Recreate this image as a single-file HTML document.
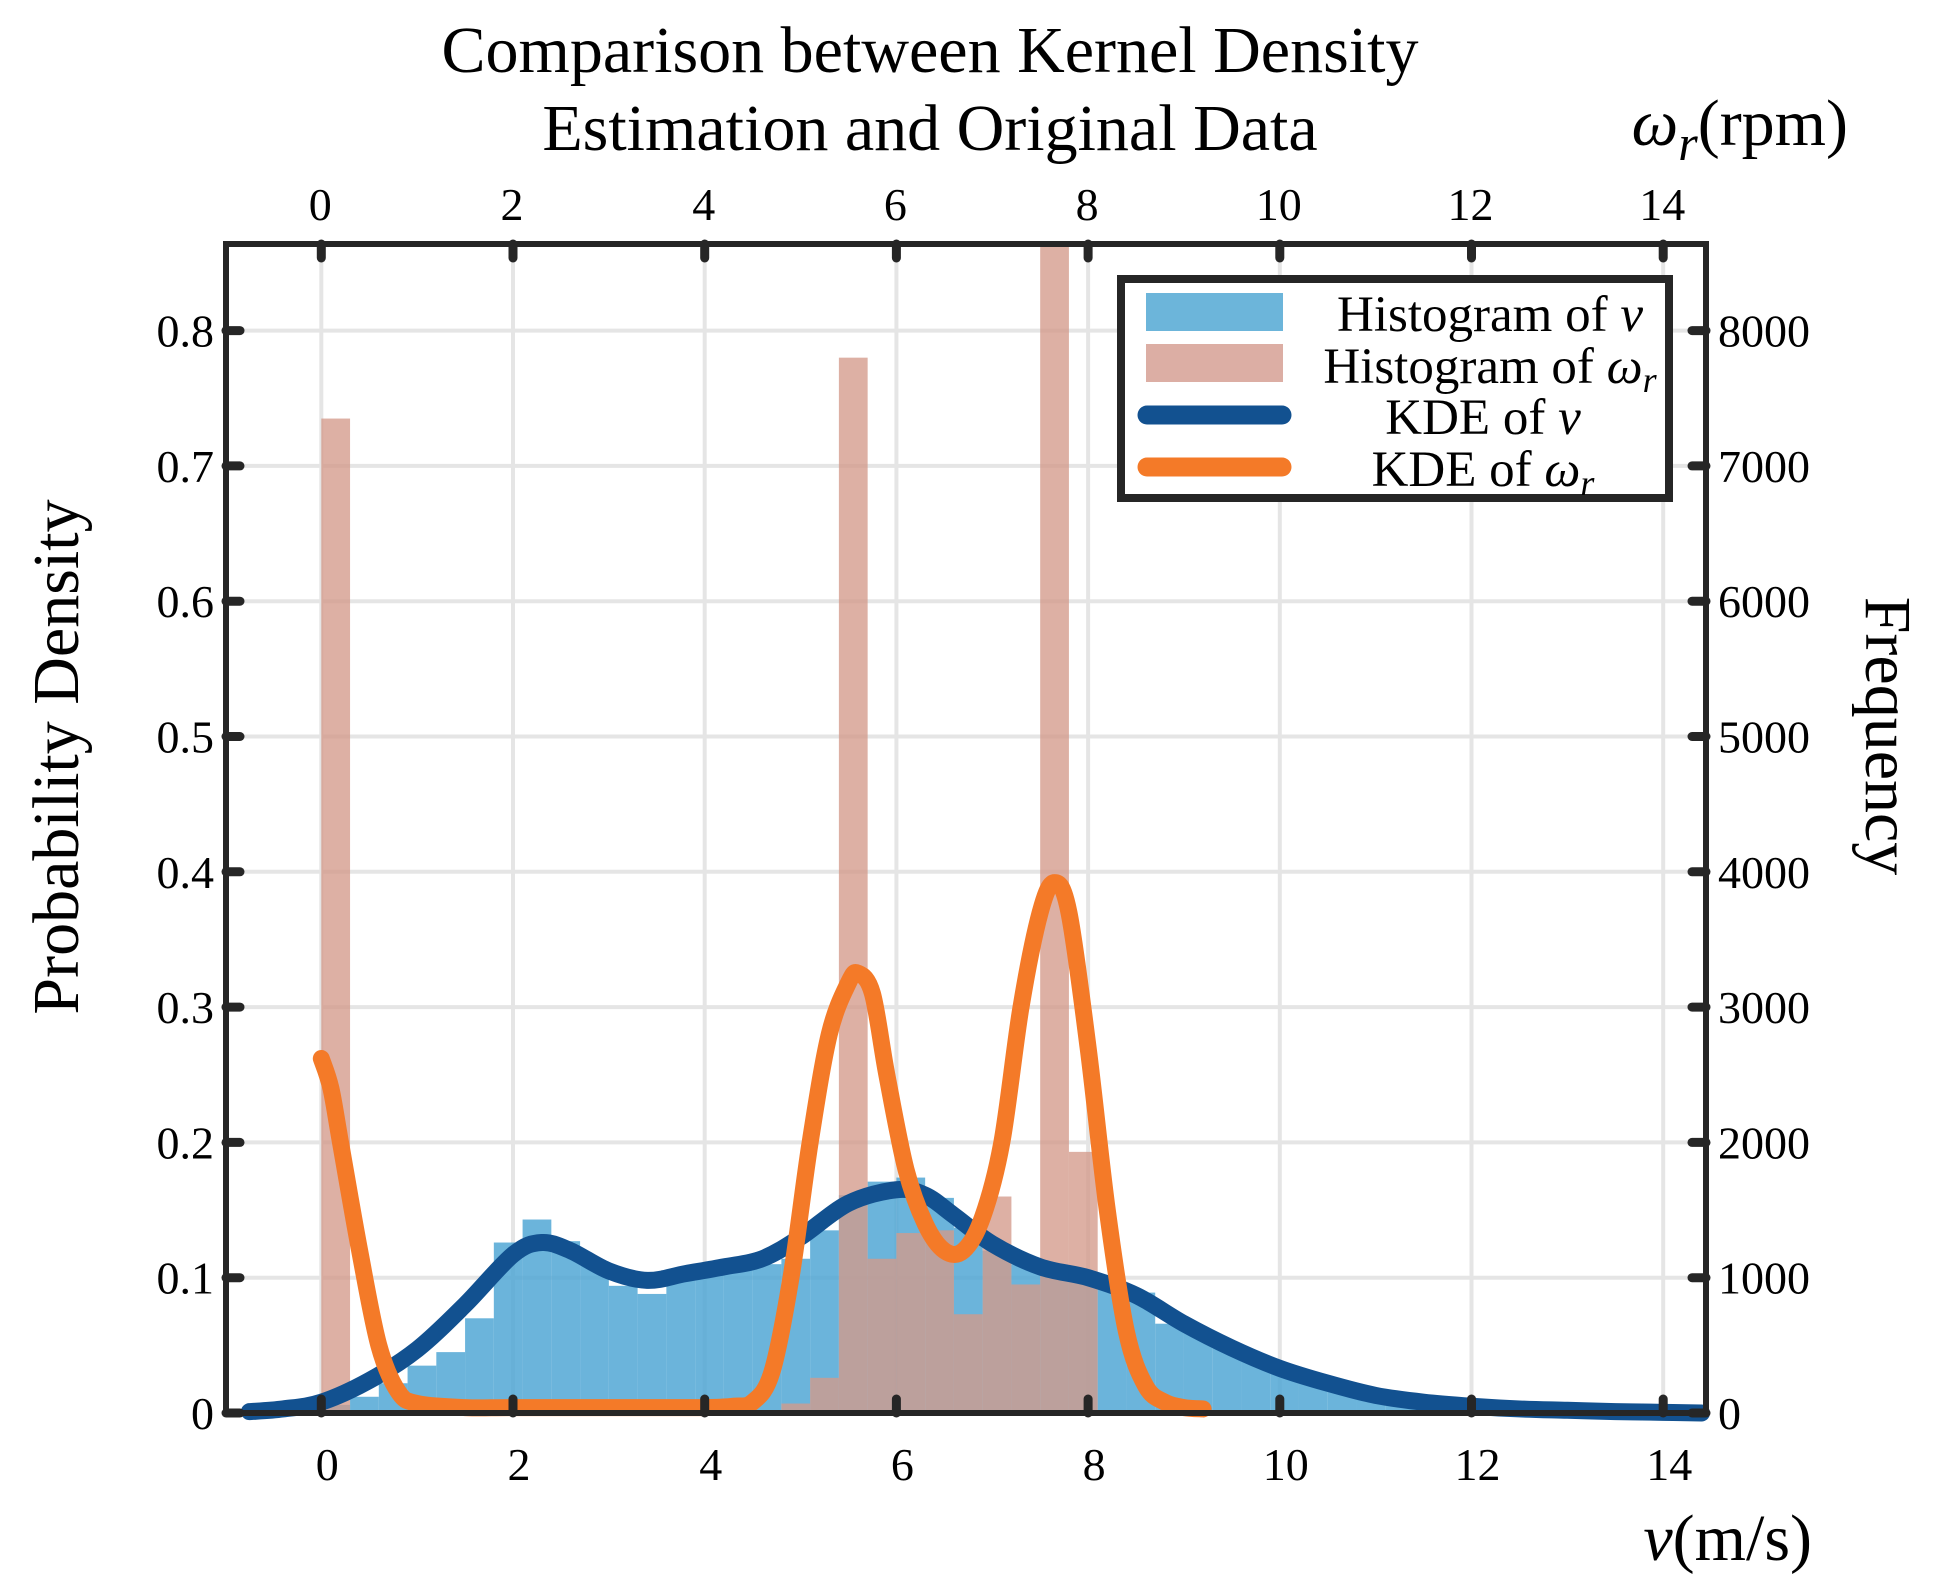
<!DOCTYPE html>
<html><head><meta charset="utf-8"><style>
html,body{margin:0;padding:0;background:#fff;}
svg{display:block;font-family:"Liberation Serif",serif;}
</style></head><body>
<svg id="chart" width="1939" height="1582" viewBox="0 0 1939 1582" xmlns="http://www.w3.org/2000/svg">
<g id="grid"></g>
<g id="bars"></g>
<g id="lines"></g>
<g id="axes"></g>
<text x="930" y="72" font-size="66" text-anchor="middle">Comparison between Kernel Density</text>
<text x="930" y="150" font-size="66" text-anchor="middle">Estimation and Original Data</text>
<text x="1848" y="145" font-size="66" text-anchor="end"><tspan font-style="italic">ω</tspan><tspan font-style="italic" font-size="50" dy="15">r</tspan><tspan dy="-15">(rpm)</tspan></text>
<text x="1812" y="1560" font-size="66" text-anchor="end"><tspan font-style="italic">v</tspan>(m/s)</text>
<text transform="translate(78,757) rotate(-90)" font-size="66" text-anchor="middle">Probability Density</text>
<text transform="translate(1866,736) rotate(90)" font-size="66" text-anchor="middle">Frequency</text>
<g>
<rect x="1121" y="279" width="548" height="219" fill="#fff" stroke="#262626" stroke-width="8"/>
<rect x="1146" y="293" width="137" height="38" fill="#6cb5da"/>
<rect x="1146" y="344" width="137" height="38" fill="#dcaea4"/>
<line x1="1147" y1="415" x2="1282" y2="415" stroke="#125190" stroke-width="19" stroke-linecap="round"/>
<line x1="1147" y1="467" x2="1282" y2="467" stroke="#f47a28" stroke-width="19" stroke-linecap="round"/>
<text x="1490" y="331" font-size="51" text-anchor="middle">Histogram of <tspan font-style="italic">v</tspan></text>
<text x="1490" y="383" font-size="51" text-anchor="middle">Histogram of <tspan font-style="italic">ω</tspan><tspan font-style="italic" font-size="36" dy="9">r</tspan></text>
<text x="1483" y="434" font-size="51" text-anchor="middle">KDE of <tspan font-style="italic">v</tspan></text>
<text x="1483" y="486" font-size="51" text-anchor="middle">KDE of <tspan font-style="italic">ω</tspan><tspan font-style="italic" font-size="36" dy="9">r</tspan></text>
</g>
</svg>
<script>
const xTicks = [0,2,4,6,8,10,12,14];
const yTicksLeft = [0,0.1,0.2,0.3,0.4,0.5,0.6,0.7,0.8];
const yTickLabelsLeft = ["0","0.1","0.2","0.3","0.4","0.5","0.6","0.7","0.8"];
const yTickLabelsRight = ["0","1000","2000","3000","4000","5000","6000","7000","8000"];
const binWidth = 0.3;
const histVStarts = [0,0.3,0.6,0.9,1.2,1.5,1.8,2.1,2.4,2.7,3.0,3.3,3.6,3.9,4.2,4.5,4.8,5.1,5.4,5.7,6.0,6.3,6.6,6.9,7.2,7.5,7.8,8.1,8.4,8.7,9.0,9.3,9.6,9.9,10.2,10.5,10.8,11.1,11.4,11.7,12.0,12.3,12.6,12.9,13.2,13.5,13.8];
const histVValues = [0.006,0.012,0.022,0.035,0.045,0.07,0.126,0.143,0.127,0.112,0.094,0.088,0.1,0.105,0.108,0.11,0.114,0.135,0.161,0.171,0.174,0.159,0.137,0.12,0.11,0.106,0.1,0.097,0.089,0.066,0.06,0.05,0.04,0.032,0.023,0.016,0.011,0.007,0.005,0.004,0.003,0.002,0.002,0.001,0.001,0.001,0.001];
const histWStarts = [0,4.8,5.1,5.4,5.7,6.0,6.3,6.6,6.9,7.2,7.5,7.8];
const histWValues = [0.735,0.007,0.026,0.78,0.114,0.133,0.135,0.073,0.16,0.095,0.95,0.193];
const kdeVx = [-0.75,-0.4,0,0.5,1.0,1.5,2.0,2.3,2.6,3.0,3.4,3.8,4.2,4.6,5.0,5.5,6.0,6.3,6.6,7.0,7.5,8.0,8.5,9.0,9.5,10,10.5,11,11.5,12,12.5,13,13.5,14,14.4];
const kdeVy = [0.001,0.003,0.008,0.024,0.047,0.08,0.117,0.126,0.12,0.105,0.098,0.103,0.108,0.114,0.13,0.155,0.165,0.161,0.146,0.125,0.108,0.1,0.087,0.066,0.048,0.033,0.022,0.013,0.008,0.005,0.003,0.002,0.001,0.0005,0];
const kdeWx = [0,0.1,0.2,0.4,0.6,0.8,1.0,1.5,2.0,3.0,4.0,4.3,4.5,4.7,4.9,5.1,5.3,5.5,5.6,5.75,5.9,6.1,6.3,6.5,6.7,6.9,7.1,7.3,7.5,7.65,7.8,8.0,8.2,8.4,8.6,8.8,9.0,9.2];
const kdeWy = [0.262,0.24,0.2,0.12,0.05,0.016,0.007,0.004,0.004,0.004,0.004,0.005,0.008,0.03,0.1,0.2,0.28,0.318,0.325,0.31,0.25,0.18,0.14,0.12,0.12,0.145,0.2,0.3,0.37,0.392,0.37,0.27,0.15,0.06,0.02,0.008,0.004,0.003];

const L=226,R=1706,T=244,B=1413;
const X0=321.3, XS=95.85, YS=1353;
const sx=v=>X0+v*XS;
const sy=d=>B-d*YS;
const NS="http://www.w3.org/2000/svg";
function mk(tag,parent,attrs){const e=document.createElementNS(NS,tag);for(const k in attrs)e.setAttribute(k,attrs[k]);parent.appendChild(e);return e;}
const grid=document.getElementById('grid'),bars=document.getElementById('bars'),lines=document.getElementById('lines'),axes=document.getElementById('axes');
xTicks.forEach(t=>{const g=mk('line',grid,{x1:sx(t),x2:sx(t),y1:T,y2:B,stroke:'#e5e5e5','stroke-width':4});

});
yTicksLeft.forEach(t=>{const g=mk('line',grid,{x1:L,x2:R,y1:sy(t),y2:sy(t),stroke:'#e5e5e5','stroke-width':4});

});
histVStarts.forEach((s,i)=>{const h=Math.min(histVValues[i],(B-T)/YS);const r=mk('rect',bars,{x:sx(s),y:sy(h),width:binWidth*XS,height:h*YS,fill:'#4aa3d3','fill-opacity':0.82});

});
histWStarts.forEach((s,i)=>{const h=Math.min(histWValues[i],(B-T)/YS);const r=mk('rect',bars,{x:sx(s),y:sy(h),width:binWidth*XS,height:h*YS,fill:'#d49a8a','fill-opacity':0.78});

});
function smoothPath(xs,ys){const p=xs.map((x,i)=>[sx(x),sy(ys[i])]);let d='M'+p[0][0]+','+p[0][1];
for(let i=0;i<p.length-1;i++){const p0=p[Math.max(0,i-1)],p1=p[i],p2=p[i+1],p3=p[Math.min(p.length-1,i+2)];
const c1=[p1[0]+(p2[0]-p0[0])/6,p1[1]+(p2[1]-p0[1])/6],c2=[p2[0]-(p3[0]-p1[0])/6,p2[1]-(p3[1]-p1[1])/6];
d+=' C'+c1+' '+c2+' '+p2;}return d;}
const lv=mk('path',lines,{d:smoothPath(kdeVx,kdeVy),fill:'none',stroke:'#125190','stroke-width':17,'stroke-linejoin':'round','stroke-linecap':'round'});


const lw=mk('path',lines,{d:smoothPath(kdeWx,kdeWy),fill:'none',stroke:'#f47a28','stroke-width':17,'stroke-linejoin':'round','stroke-linecap':'round'});


const box=mk('rect',axes,{x:L,y:T,width:R-L,height:B-T,fill:'none',stroke:'#262626','stroke-width':6});


xTicks.forEach(t=>{
 mk('line',axes,{x1:sx(t),x2:sx(t),y1:B,y2:B-14,stroke:'#262626','stroke-width':9,'stroke-linecap':'round'});
 mk('line',axes,{x1:sx(t),x2:sx(t),y1:T,y2:T+14,stroke:'#262626','stroke-width':9,'stroke-linecap':'round'});
 const b=mk('text',axes,{x:sx(t)+6,y:1480,'font-size':46,'text-anchor':'middle'});b.textContent=t;
 
 
 const tp=mk('text',axes,{x:sx(t)-1,y:220,'font-size':46,'text-anchor':'middle'});tp.textContent=t;
 
 
});
yTicksLeft.forEach((t,i)=>{
 mk('line',axes,{x1:L,x2:L+14,y1:sy(t),y2:sy(t),stroke:'#262626','stroke-width':9,'stroke-linecap':'round'});
 mk('line',axes,{x1:R,x2:R-14,y1:sy(t),y2:sy(t),stroke:'#262626','stroke-width':9,'stroke-linecap':'round'});
 const a=mk('text',axes,{x:214,y:sy(t)+16,'font-size':46,'text-anchor':'end'});a.textContent=yTickLabelsLeft[i];
 
 
 const b=mk('text',axes,{x:1718,y:sy(t)+16,'font-size':46,'text-anchor':'start'});b.textContent=yTickLabelsRight[i];
 
 
});
</script>
</body></html>
